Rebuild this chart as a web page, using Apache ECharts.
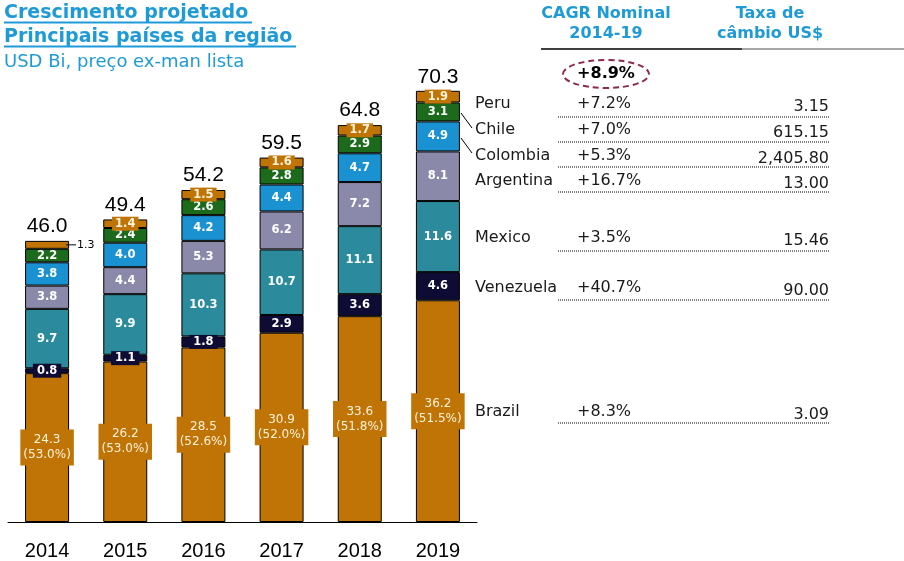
<!DOCTYPE html>
<html><head><meta charset="utf-8">
<script src="https://cdn.jsdelivr.net/npm/echarts@6/dist/echarts.min.js"></script>
<style>html,body{margin:0;padding:0;background:#fff}#c{width:904px;height:561px}</style>
</head><body><div id="c"></div>
<script>
const years = ['2014','2015','2016','2017','2018','2019'];
const brazil = [24.3,26.2,28.5,30.9,33.6,36.2];
const brazilShare = ['53.0%','53.0%','52.6%','52.0%','51.8%','51.5%'];
const venezuela = [0.8,1.1,1.8,2.9,3.6,4.6];
const mexico = [9.7,9.9,10.3,10.7,11.1,11.6];
const argentina = [3.8,4.4,5.3,6.2,7.2,8.1];
const colombia = [3.8,4.0,4.2,4.4,4.7,4.9];
const chile = [2.2,2.4,2.6,2.8,2.9,3.1];
const peru = [1.3,1.4,1.5,1.6,1.7,1.9];
const totals = [46.0,49.4,54.2,59.5,64.8,70.3];

const tableCountries = ['Peru','Chile','Colombia','Argentina','Mexico','Venezuela','Brazil'];
const tableCagr = ['+7.2%','+7.0%','+5.3%','+16.7%','+3.5%','+40.7%','+8.3%'];
const tableFx = ['3.15','615.15','2,405.80','13.00','15.46','90.00','3.09'];
const totalCagr = '+8.9%';

const C = {brazil:'#C07405', ven:'#0E0B35', mex:'#2B8A9B', arg:'#8A89A9', col:'#1A91D0', chile:'#1C6B1C', peru:'#C07405'};
const FONT = 'DejaVu Sans';
const BLUE = '#1E9BD7';

function seg(name, data, color, extraLabel) {
  return {
    name, type:'bar', stack:'s', data, barWidth:44,
    itemStyle:{color, borderColor:'#000', borderWidth:1},
    label:Object.assign({show:true, position:'inside', color:'#fff', fontFamily:FONT, fontSize:11.5, fontWeight:'bold'}, extraLabel||{})
  };
}

const peruData = peru.map((v,i)=> i===0 ? {value:v, label:{position:'right', offset:[-8,0], color:'#000', fontWeight:'normal', backgroundColor:'transparent', padding:0, formatter:'{ln|}{t|'+v.toFixed(1)+'}', rich:{ln:{width:10,height:1,backgroundColor:'#000'}, t:{color:'#000', fontFamily:FONT, fontSize:11, padding:[0,0,0,1]}}}} : v);

const graphics = [];
graphics.push({type:'text', left:4, top:4, style:{text:'Crescimento projetado', fill:BLUE, font:'bold 19px "DejaVu Sans"'}});
graphics.push({type:'text', left:4, top:28, style:{text:'Principais países da região', fill:BLUE, font:'bold 19px "DejaVu Sans"'}});
graphics.push({type:'text', left:4, top:53, style:{text:'USD Bi, preço ex-man lista', fill:BLUE, font:'18px "DejaVu Sans"'}});
graphics.push({type:'line', shape:{x1:4,y1:22.5,x2:252,y2:22.5}, style:{stroke:BLUE, lineWidth:2}});
graphics.push({type:'line', shape:{x1:4,y1:46.5,x2:296,y2:46.5}, style:{stroke:BLUE, lineWidth:2}});
graphics.push({type:'text', x:606, y:4, style:{text:'CAGR Nominal\n2014-19', fill:BLUE, font:'bold 16px "DejaVu Sans"', textAlign:'center', lineHeight:20}});
graphics.push({type:'text', x:770, y:4, style:{text:'Taxa de\ncâmbio US$', fill:BLUE, font:'bold 16px "DejaVu Sans"', textAlign:'center', lineHeight:20}});
graphics.push({type:'line', shape:{x1:541,y1:49,x2:742,y2:49}, style:{stroke:'#000', lineWidth:1.5}});
graphics.push({type:'line', shape:{x1:742,y1:49,x2:904,y2:49}, style:{stroke:'#888', lineWidth:1.5}});
graphics.push({type:'ellipse', shape:{cx:606,cy:74,rx:43,ry:14}, style:{fill:'none', stroke:'#8C2A45', lineWidth:2, lineDash:[6,4]}});
graphics.push({type:'text', x:606, y:74, style:{text:totalCagr, fill:'#000', font:'bold 16px "DejaVu Sans"', textAlign:'center', textVerticalAlign:'middle'}});
const rowY = [104,130,156,181,238,288,412];
const lineY = [117,142,167,192,251,300,423];
tableCountries.forEach((c,i)=>{
  graphics.push({type:'text', x:475, y:rowY[i], style:{text:c, fill:'#1a1a1a', font:'16px "DejaVu Sans"', textVerticalAlign:'middle'}});
  graphics.push({type:'text', x:577, y:rowY[i], style:{text:tableCagr[i], fill:'#1a1a1a', font:'16px "DejaVu Sans"', textVerticalAlign:'middle'}});
  graphics.push({type:'text', x:829, y:rowY[i]+3, style:{text:tableFx[i], fill:'#1a1a1a', font:'16px "DejaVu Sans"', textAlign:'right', textVerticalAlign:'middle'}});
  graphics.push({type:'line', shape:{x1:558,y1:lineY[i],x2:829,y2:lineY[i]}, style:{stroke:'#000', lineWidth:1, lineDash:[1,1]}});
});
graphics.push({type:'line', shape:{x1:461,y1:113,x2:472,y2:128}, style:{stroke:'#000', lineWidth:1}});
graphics.push({type:'line', shape:{x1:461,y1:138,x2:472,y2:153}, style:{stroke:'#000', lineWidth:1}});

const chart = echarts.init(document.getElementById('c'), null, {renderer:'canvas'});
chart.setOption({
  animation:false,
  backgroundColor:'#fff',
  grid:{left:8, width:469, top:32, height:490},
  xAxis:{type:'category', data:years, axisLine:{lineStyle:{color:'#000', width:1}}, axisTick:{show:false},
    axisLabel:{color:'#000', fontFamily:'Liberation Sans', fontSize:20, margin:19}},
  yAxis:{type:'value', min:0, max:80, show:false, splitLine:{show:false}},
  series:[
    seg('Brazil', brazil, C.brazil, {backgroundColor:C.brazil, padding:[3,3], lineHeight:15, fontSize:12, fontWeight:'normal', color:'#FFF3DC', formatter:p=>p.value.toFixed(1)+'\n('+brazilShare[p.dataIndex]+')'}),
    seg('Venezuela', venezuela, C.ven, {backgroundColor:C.ven, padding:[1,4], formatter:p=>p.value.toFixed(1)}),
    seg('Mexico', mexico, C.mex, {formatter:p=>p.value.toFixed(1)}),
    seg('Argentina', argentina, C.arg, {formatter:p=>p.value.toFixed(1)}),
    seg('Colombia', colombia, C.col, {formatter:p=>p.value.toFixed(1)}),
    seg('Chile', chile, C.chile, {formatter:p=>p.value.toFixed(1)}),
    seg('Peru', peruData, C.peru, {backgroundColor:C.peru, padding:[1,3], color:'#FFF3DC', formatter:p=>p.value.toFixed(1)}),
    {name:'Total', type:'scatter', data:totals, symbol:'circle', symbolSize:2, itemStyle:{color:'rgba(255,255,255,0)'}, z:5,
     label:{show:true, position:'top', distance:3, color:'#000', opacity:1, fontFamily:'Liberation Sans', fontSize:21, formatter:p=>Number(p.value).toFixed(1)}}
  ],
  graphic:graphics
});
</script></body></html>
